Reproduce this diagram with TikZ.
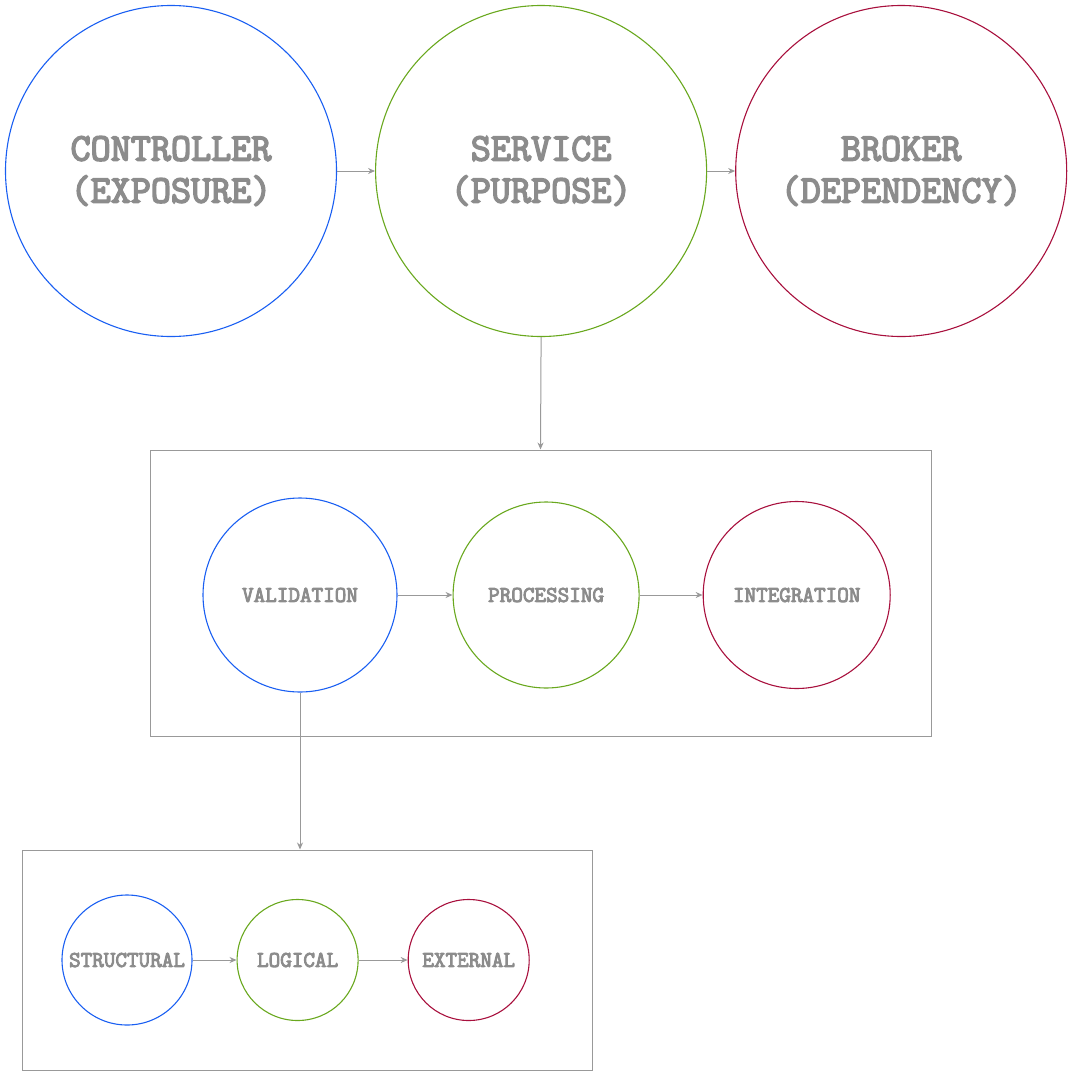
\documentclass[tikz,border=0pt]{standalone}
\usepackage{fontspec}
\setmonofont{Latin Modern Mono}[AutoFakeBold=4]
\usepackage{xcolor}
\definecolor{cExpo}{HTML}{1A5FF2}
\definecolor{cPurp}{HTML}{69A81E}
\definecolor{cDep}{HTML}{A8103D}
\definecolor{ink}{HTML}{8C8C8C}
\definecolor{rule}{HTML}{999999}
\usetikzlibrary{arrows.meta,positioning}

\begin{document}
\begin{tikzpicture}[x=1pt,y=-1pt,
  font=\ttfamily\bfseries,
  ring/.style={circle,draw,line width=1.1pt,inner sep=0pt,align=center,text=ink},
  bigring/.style={ring,minimum size=331pt,font=\ttfamily\bfseries\fontsize{39}{42}\selectfont},
  midring/.style={ring,font=\ttfamily\bfseries\fontsize{22.5}{24}\selectfont},
  smallring/.style={ring,minimum size=121pt,font=\ttfamily\bfseries\fontsize{22.5}{24}\selectfont},
  frame/.style={draw=rule,line width=1pt,inner sep=0pt},
  fwd/.style={-{Stealth[length=7pt,width=6pt]},rule,line width=1pt}]
\useasboundingbox (0,0) rectangle (1071,1071);
% top row
\node[bigring,draw=cExpo] (ctrl) at (171,171) {CONTROLLER\\(EXPOSURE)};
\node[bigring,draw=cPurp,right=38pt of ctrl] (svc) {SERVICE\\(PURPOSE)};
\node[bigring,draw=cDep,right=28pt of svc] (brk) {BROKER\\(DEPENDENCY)};
% service frame
\node[frame,minimum width=781pt,minimum height=286pt] (stage) at (540.5,593) {};
\node[midring,draw=cExpo,minimum size=194pt] (val) at (300,595) {VALIDATION};
\node[midring,draw=cPurp,minimum size=186pt,right=55pt of val] (proc) {PROCESSING};
\node[midring,draw=cDep,minimum size=187pt,right=63pt of proc] (integ) {INTEGRATION};
% validation frame
\node[frame,minimum width=570pt,minimum height=220pt] (check) at (307,960) {};
\node[smallring,draw=cExpo,minimum size=130pt] (struct) at (127,960) {STRUCTURAL};
\node[smallring,draw=cPurp,right=44pt of struct] (logic) {LOGICAL};
\node[smallring,draw=cDep,right=49pt of logic] (ext) {EXTERNAL};
% connectors
\draw[fwd] (ctrl) -- (svc);
\draw[fwd] (svc) -- (brk);
\draw[fwd] (svc.south) -- (stage.north);
\draw[fwd] (val) -- (proc);
\draw[fwd] (proc) -- (integ);
\draw[fwd] (val.south) -- (val.south |- check.north);
\draw[fwd] (struct) -- (logic);
\draw[fwd] (logic) -- (ext);
\end{tikzpicture}
\end{document}
